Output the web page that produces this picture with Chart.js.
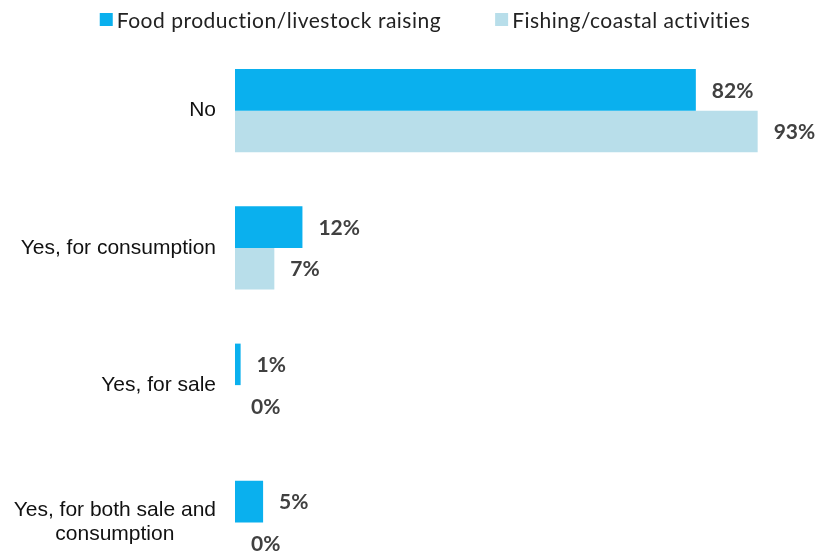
<!DOCTYPE html>
<html>
<head>
<meta charset="utf-8">
<script src="https://cdn.jsdelivr.net/npm/chart.js@4.4.0/dist/chart.umd.min.js"></script>
<style>
  html, body { margin: 0; padding: 0; background: #fff; overflow: hidden; }
  #wrap { width: 816px; height: 594px; position: relative; }
</style>
</head>
<body>
<div id="wrap"><canvas id="chart"></canvas></div>
<script>
// categories (multi-line ones are split into rows)
var categories = [
    ['No'],
    ['Yes, for consumption'],
    ['Yes, for sale'],
    ['Yes, for both sale and', 'consumption']
];
var seriesNames = ['Food production/livestock raising', 'Fishing/coastal activities'];
var foodValues = [82, 12, 1, 5];
var fishingValues = [93, 7, 0, 0];
var seriesColors = ['#0AB0EE', '#B8DEEA'];

// legend row across the top
var topLegend = {
    id: 'topLegend',
    afterDraw: function(chart) {
        var ctx = chart.ctx;
        var box = 13, gapText = 4, gapItem = 54;
        ctx.save();
        ctx.font = '21px Lato, "Open Sans", sans-serif';
        ctx.letterSpacing = '0.5px';
        ctx.textBaseline = 'middle';
        ctx.textAlign = 'left';
        var widths = seriesNames.map(function(n) { return ctx.measureText(n).width; });
        var total = 0;
        widths.forEach(function(w, i) { total += box + gapText + w + (i ? gapItem : 0); });
        var x = 425 - total / 2;
        var y = 20;
        seriesNames.forEach(function(n, i) {
            ctx.fillStyle = seriesColors[i];
            ctx.fillRect(x, y - 7, box, box);
            ctx.fillStyle = '#222';
            ctx.fillText(n, x + box + gapText, y + 1);
            x += box + gapText + widths[i] + gapItem;
        });
        ctx.restore();
    }
};

// category names on the left, block right-aligned, rows centred inside the block
var categoryLabels = {
    id: 'categoryLabels',
    afterDraw: function(chart) {
        var ctx = chart.ctx;
        var yScale = chart.scales.y;
        var right = chart.chartArea.left - 19;
        var lineHeight = 24;
        ctx.save();
        ctx.font = '21px "Liberation Sans", Arial, sans-serif';
        ctx.fillStyle = '#111';
        ctx.textBaseline = 'middle';
        ctx.textAlign = 'center';
        categories.forEach(function(lines, i) {
            var y = yScale.getPixelForValue(i);
            var w = 0;
            lines.forEach(function(l) { w = Math.max(w, ctx.measureText(l).width); });
            var cx = right - w / 2;
            var top = y - (lines.length - 1) * lineHeight / 2;
            lines.forEach(function(l, j) {
                ctx.fillText(l, cx, top + j * lineHeight);
            });
        });
        ctx.restore();
    }
};

// percentage next to the end of each bar
var valueLabels = {
    id: 'valueLabels',
    afterDatasetsDraw: function(chart) {
        var ctx = chart.ctx;
        ctx.save();
        ctx.font = 'bold 21px Lato, "Open Sans", sans-serif';
        ctx.fillStyle = '#404040';
        ctx.textAlign = 'left';
        ctx.textBaseline = 'middle';
        chart.data.datasets.forEach(function(ds, d) {
            var meta = chart.getDatasetMeta(d);
            meta.data.forEach(function(bar, i) {
                ctx.fillText(ds.data[i] + '%', bar.x + 16, bar.y + 1);
            });
        });
        ctx.restore();
    }
};

var ctx = document.getElementById('chart');
var chart = new Chart(ctx, {
    type: 'bar',
    data: {
        labels: categories.map(function(c) { return c.join(' '); }),
        datasets: [
            {
                label: seriesNames[0],
                data: foodValues,
                backgroundColor: seriesColors[0],
                borderWidth: 0
            },
            {
                label: seriesNames[1],
                data: fishingValues,
                backgroundColor: seriesColors[1],
                borderWidth: 0
            }
        ]
    },
    options: {
        indexAxis: 'y',
        responsive: true,
        maintainAspectRatio: false,
        animation: false,
        layout: {
            padding: { left: 0, right: 19, top: 42, bottom: 3 }
        },
        datasets: {
            bar: {
                categoryPercentage: 0.605,
                barPercentage: 1.0
            }
        },
        scales: {
            x: { display: false, min: 0, max: 100 },
            y: {
                grid: { display: false },
                border: { display: false },
                ticks: { display: false },
                afterFit: function(scale) { scale.width = 235; }
            }
        },
        plugins: {
            legend: { display: false },
            tooltip: { enabled: false }
        }
    },
    plugins: [topLegend, categoryLabels, valueLabels]
});
</script>
</body>
</html>
